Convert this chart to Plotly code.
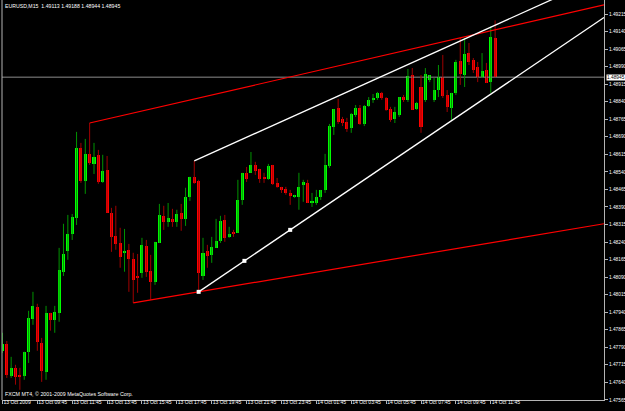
import plotly.graph_objects as go

# ---------------- data (EURUSD M15, 13 Oct 2009 07:45 -> 14 Oct 2009 12:00) ----------------
chart_title = "EURUSD,M15  1.49113 1.49188 1.48944 1.48945"
copyright_text = "FXCM MT4, © 2001-2009 MetaQuotes Software Corp."

opens = [
    1.47775, 1.47805, 1.47668, 1.47702, 1.47672, 1.47668, 1.47771, 1.47912, 1.47963, 1.47809,
    1.47685, 1.47937, 1.47907, 1.47937, 1.48113, 1.48202, 1.48275, 1.48343, 1.48642, 1.48501,
    1.48617, 1.48574, 1.48613, 1.48497, 1.48548, 1.48365, 1.48266, 1.48236, 1.48194, 1.48207,
    1.48168, 1.48091, 1.48108, 1.48224, 1.48117, 1.48070, 1.48236, 1.48352, 1.48326, 1.48339,
    1.48326, 1.48365, 1.48339, 1.48433, 1.48519, 1.48501, 1.48095, 1.48202, 1.48185, 1.48215,
    1.48245, 1.48335, 1.48262, 1.48279, 1.48279, 1.48420, 1.48536, 1.48536, 1.48570, 1.48553,
    1.48519, 1.48510, 1.48570, 1.48493, 1.48476, 1.48467, 1.48450, 1.48433, 1.48433, 1.48484,
    1.48493, 1.48407, 1.48407, 1.48433, 1.48463, 1.48566, 1.48732, 1.48813, 1.48766, 1.48754,
    1.48728, 1.48783, 1.48813, 1.48745, 1.48822, 1.48848, 1.48856, 1.48878, 1.48856, 1.48809,
    1.48766, 1.48783, 1.48860, 1.48848, 1.48954, 1.48809, 1.48903, 1.48848, 1.48933, 1.48848,
    1.48890, 1.48946, 1.48869, 1.48813, 1.48878, 1.49014, 1.48954, 1.49048, 1.49019, 1.48989,
    1.48946, 1.48976, 1.48924, 1.49113]

highs = [
    1.47852, 1.47817, 1.47749, 1.47715, 1.47702, 1.47771, 1.47946, 1.48027, 1.47976, 1.47830,
    1.47967, 1.47937, 1.47967, 1.48215, 1.48318, 1.48356, 1.48360, 1.48711, 1.48664, 1.48681,
    1.48749, 1.48664, 1.48634, 1.48613, 1.48608, 1.48386, 1.48395, 1.48301, 1.48296, 1.48232,
    1.48194, 1.48189, 1.48258, 1.48249, 1.48185, 1.48241, 1.48403, 1.48395, 1.48407, 1.48382,
    1.48378, 1.48403, 1.48472, 1.48519, 1.48587, 1.48506, 1.48258, 1.48228, 1.48262, 1.48339,
    1.48352, 1.48356, 1.48305, 1.48292, 1.48506, 1.48536, 1.48561, 1.48625, 1.48583, 1.48553,
    1.48536, 1.48574, 1.48570, 1.48514, 1.48476, 1.48476, 1.48463, 1.48442, 1.48536, 1.48506,
    1.48506, 1.48450, 1.48463, 1.48463, 1.48617, 1.48745, 1.48809, 1.48852, 1.48775, 1.48771,
    1.48792, 1.48826, 1.48826, 1.48826, 1.48860, 1.48873, 1.48882, 1.48882, 1.48860, 1.48818,
    1.48818, 1.48860, 1.48869, 1.48980, 1.48984, 1.48839, 1.48954, 1.48984, 1.48954, 1.48942,
    1.48997, 1.49040, 1.48890, 1.48878, 1.49019, 1.49113, 1.49113, 1.49091, 1.49027, 1.49010,
    1.49048, 1.49006, 1.49160, 1.49188]

lows = [
    1.47766, 1.47659, 1.47659, 1.47630, 1.47608, 1.47651, 1.47723, 1.47886, 1.47775, 1.47642,
    1.47651, 1.47861, 1.47852, 1.47899, 1.48095, 1.48164, 1.48249, 1.48313, 1.48493, 1.48446,
    1.48570, 1.48531, 1.48489, 1.48493, 1.48365, 1.48198, 1.48207, 1.48130, 1.48113, 1.48027,
    1.47980, 1.48023, 1.48087, 1.48091, 1.47993, 1.48057, 1.48236, 1.48292, 1.48305, 1.48305,
    1.48305, 1.48288, 1.48309, 1.48416, 1.48489, 1.48027, 1.48078, 1.48130, 1.48151, 1.48215,
    1.48236, 1.48241, 1.48258, 1.48262, 1.48279, 1.48399, 1.48497, 1.48536, 1.48527, 1.48493,
    1.48493, 1.48506, 1.48484, 1.48472, 1.48450, 1.48442, 1.48399, 1.48429, 1.48378, 1.48412,
    1.48407, 1.48390, 1.48399, 1.48420, 1.48450, 1.48557, 1.48698, 1.48745, 1.48736, 1.48711,
    1.48707, 1.48775, 1.48741, 1.48736, 1.48818, 1.48835, 1.48848, 1.48848, 1.48801, 1.48754,
    1.48749, 1.48775, 1.48839, 1.48839, 1.48805, 1.48805, 1.48707, 1.48839, 1.48924, 1.48839,
    1.48860, 1.48856, 1.48796, 1.48762, 1.48869, 1.48912, 1.48903, 1.48997, 1.48963, 1.48924,
    1.48942, 1.48920, 1.48878, 1.48944]

closes = [
    1.47805, 1.47672, 1.47702, 1.47664, 1.47664, 1.47771, 1.47916, 1.47967, 1.47813, 1.47689,
    1.47937, 1.47907, 1.47942, 1.48121, 1.48189, 1.48275, 1.48348, 1.48642, 1.48501, 1.48617,
    1.48578, 1.48604, 1.48497, 1.48544, 1.48365, 1.48262, 1.48232, 1.48177, 1.48198, 1.48168,
    1.48078, 1.48087, 1.48228, 1.48113, 1.48070, 1.48241, 1.48356, 1.48326, 1.48343, 1.48326,
    1.48360, 1.48339, 1.48433, 1.48519, 1.48493, 1.48108, 1.48194, 1.48181, 1.48219, 1.48245,
    1.48330, 1.48258, 1.48275, 1.48275, 1.48420, 1.48536, 1.48510, 1.48570, 1.48544, 1.48510,
    1.48510, 1.48566, 1.48489, 1.48476, 1.48463, 1.48450, 1.48437, 1.48442, 1.48476, 1.48497,
    1.48407, 1.48412, 1.48433, 1.48463, 1.48570, 1.48736, 1.48809, 1.48754, 1.48749, 1.48724,
    1.48788, 1.48813, 1.48745, 1.48822, 1.48848, 1.48856, 1.48878, 1.48856, 1.48805, 1.48762,
    1.48796, 1.48860, 1.48848, 1.48950, 1.48805, 1.48835, 1.48732, 1.48959, 1.48954, 1.48890,
    1.48946, 1.48865, 1.48818, 1.48878, 1.49010, 1.48959, 1.49044, 1.49010, 1.48976, 1.48946,
    1.48971, 1.48920, 1.49117, 1.48945]

current_price = 1.48945

# x-axis ticks (bar index -> label)
x_tick_bars = [0, 8, 16, 24, 32, 40, 48, 56, 64, 72, 80, 88, 96, 104, 112]
x_tick_labels = ["13 Oct 2009", "13 Oct 09:45", "13 Oct 11:45", "13 Oct 13:45", "13 Oct 15:45",
                 "13 Oct 17:45", "13 Oct 19:45", "13 Oct 21:45", "13 Oct 23:45", "14 Oct 01:45",
                 "14 Oct 03:45", "14 Oct 05:45", "14 Oct 07:45", "14 Oct 09:45", "14 Oct 11:45"]

y_tick_values = [1.47565, 1.47640, 1.47715, 1.47790, 1.47865, 1.47940, 1.48015, 1.48090,
                 1.48165, 1.48240, 1.48315, 1.48390, 1.48465, 1.48540, 1.48615, 1.48690,
                 1.48765, 1.48840, 1.48915, 1.48990, 1.49065, 1.49140, 1.49215]

# trend lines: two anchor points each (bar index, price), drawn as rays to the right
red_upper_bars, red_upper_prices = [20, 105], [1.48749, 1.49113]
red_lower_bars, red_lower_prices = [30, 45], [1.47980, 1.48027]
white_upper_bars, white_upper_prices = [44, 105], [1.48587, 1.49100]
white_lower_bars, white_lower_prices = [45, 66], [1.48027, 1.48292]
white_lower_handle_bars = [45, 55.5, 66]

# ---------------- figure ----------------
X_RANGE = [-0.1, 137.97]
Y_RANGE = [1.475645, 1.49275]

bars = list(range(len(opens)))
UP_BODY, DN_BODY = "#00ff00", "#ff0000"
UP_WICK, DN_WICK = "#009400", "#a00000"
GREY = "#b4b4b4"

fig = go.Figure()

# current price line (behind candles)
fig.add_trace(go.Scatter(x=X_RANGE, y=[current_price, current_price], mode="lines",
                         line=dict(color="#8c8c8c", width=1), hoverinfo="skip"))

# wicks
for up, col in ((True, UP_WICK), (False, DN_WICK)):
    wx, wy = [], []
    for i in bars:
        if (closes[i] >= opens[i]) == up:
            wx += [i, i, None]
            wy += [lows[i], highs[i], None]
    fig.add_trace(go.Scatter(x=wx, y=wy, mode="lines", line=dict(color=col, width=1),
                             hoverinfo="skip"))

# bodies
MIN_BODY = 0.00003
for up, col in ((True, UP_BODY), (False, DN_BODY)):
    bx, bbase, bh = [], [], []
    for i in bars:
        if (closes[i] >= opens[i]) == up:
            lo, hi = min(opens[i], closes[i]), max(opens[i], closes[i])
            h = max(hi - lo, MIN_BODY)
            bx.append(i)
            bbase.append((lo + hi) / 2 - h / 2)
            bh.append(h)
    fig.add_trace(go.Bar(x=bx, y=bh, base=bbase, width=0.7, marker=dict(color=col, line=dict(width=0)),
                         hoverinfo="skip"))


def ray(bx, py):
    slope = (py[1] - py[0]) / (bx[1] - bx[0])
    x_end = X_RANGE[1]
    return [bx[0], x_end], [py[0], py[0] + slope * (x_end - bx[0])], slope


for bx, py, col, w in ((red_upper_bars, red_upper_prices, "#ff0000", 1.2),
                       (red_lower_bars, red_lower_prices, "#ff0000", 1.2),
                       (white_upper_bars, white_upper_prices, "#ffffff", 1.3),
                       (white_lower_bars, white_lower_prices, "#ffffff", 1.3)):
    xs, ys, _ = ray(bx, py)
    fig.add_trace(go.Scatter(x=xs, y=ys, mode="lines", line=dict(color=col, width=w),
                             hoverinfo="skip"))

# selection handles on the lower white line
_, _, wl_slope = ray(white_lower_bars, white_lower_prices)
hy = [white_lower_prices[0] + wl_slope * (b - white_lower_bars[0]) for b in white_lower_handle_bars]
fig.add_trace(go.Scatter(x=white_lower_handle_bars, y=hy, mode="markers",
                         marker=dict(symbol="square", size=4, color="#ffffff", line=dict(width=0)),
                         hoverinfo="skip"))

FONT = "Liberation Sans, Arial, sans-serif"

fig.update_layout(
    width=625, height=411,
    margin=dict(l=2, r=21, t=0, b=11, pad=0),
    paper_bgcolor="#000000", plot_bgcolor="#000000",
    showlegend=False, barmode="overlay", bargap=0,
    font=dict(family=FONT, color="#ffffff", size=5),
    xaxis=dict(range=X_RANGE, showgrid=False, zeroline=False, showline=True,
               linecolor=GREY, linewidth=1, ticks="outside", ticklen=3, tickcolor=GREY,
               tickvals=x_tick_bars, ticktext=x_tick_labels, ticklabelposition="outside right",
               tickangle=0, ticklabelstandoff=-3,
               tickfont=dict(size=5, color="#ffffff", family=FONT), automargin=False),
    yaxis=dict(range=Y_RANGE, side="right", showgrid=False, zeroline=False, showline=True,
               linecolor=GREY, linewidth=1, ticks="outside", ticklen=3, tickcolor=GREY,
               tickvals=y_tick_values, tickformat=".5f",
               tickfont=dict(size=4.8, color="#ffffff", family=FONT), automargin=False),
    shapes=[dict(type="line", xref="paper", yref="paper", x0=0, x1=0, y0=0, y1=1,
                 line=dict(color=GREY, width=1))],
    annotations=[
        dict(text=chart_title, xref="paper", yref="paper", x=0, y=1, xanchor="left", yanchor="top",
             xshift=1, yshift=-1, showarrow=False, font=dict(size=5.2, color="#ffffff", family=FONT)),
        dict(text=copyright_text, xref="paper", yref="paper", x=0, y=0, xanchor="left",
             yanchor="bottom", xshift=1, yshift=1, showarrow=False,
             font=dict(size=5.3, color="#ffffff", family=FONT)),
        dict(text=f"{current_price:.5f}", xref="paper", yref="y", x=1, y=current_price,
             xanchor="left", yanchor="middle", xshift=2, showarrow=False, bgcolor="#ffffff",
             borderpad=0, font=dict(size=4.8, color="#000000", family=FONT)),
    ],
)

fig.write_html("out.html")
